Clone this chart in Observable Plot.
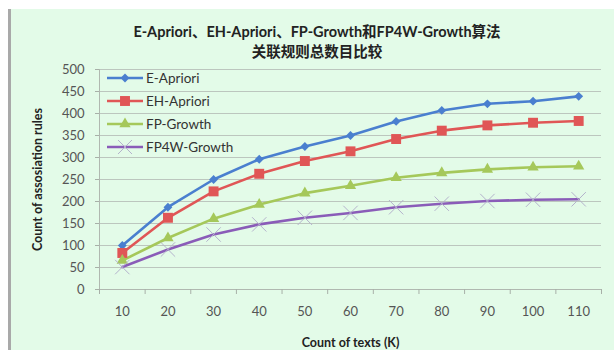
<!DOCTYPE html>
<html>
<head>
<meta charset="utf-8">
<script src="https://cdn.jsdelivr.net/npm/d3@7"></script>
<script src="https://cdn.jsdelivr.net/npm/@observablehq/plot@0.6"></script>
<style>
  body { margin: 0; background: #ffffff; }
  #wrap { position: relative; width: 614px; height: 350px; overflow: hidden; }
  #bg { position: absolute; left: 8px; top: 9px; right: 0; bottom: 0; background: #e3fbe8; border-left: 3px solid #a9a9a9; }
  #title { position: absolute; left: 20px; width: 594px; top: 22px; text-align: center;
    font-family: Lato, "Noto Sans CJK SC", sans-serif; font-weight: bold; font-size: 14.5px; line-height: 20px; color: #222; }
  #chart { position: absolute; left: 0; top: 0; }
  #legend { position: absolute; left: 106px; top: 66px; font-family: Lato, "Noto Sans CJK SC", sans-serif; font-size: 13.5px; color: #333; }
</style>
</head>
<body>
<div id="wrap">
  <div id="bg"></div>
  <div id="chart"></div>
  <div id="title">E-Apriori、EH-Apriori、FP-Growth和FP4W-Growth算法<br>关联规则总数目比较</div>
  <div id="legend"></div>
</div>
<script>
const categories = [10, 20, 30, 40, 50, 60, 70, 80, 90, 100, 110];
const seriesNames = ["E-Apriori", "EH-Apriori", "FP-Growth", "FP4W-Growth"];
const eApriori   = [100, 187, 250, 296, 325, 350, 382, 407, 422, 428, 439];
const ehApriori  = [83, 163, 223, 263, 292, 314, 342, 361, 373, 379, 383];
const fpGrowth   = [66, 117, 161, 193, 219, 236, 254, 265, 273, 278, 280];
const fp4wGrowth = [51, 91, 125, 148, 163, 174, 187, 195, 201, 204, 205];
const yTicks = [0, 50, 100, 150, 200, 250, 300, 350, 400, 450, 500];
const xTitle = "Count of texts (K)";
const yTitle = "Count of assosiation rules";

const styles = [
  {line: "#4a7fcf", fill: "#4a7fcf", stroke: "none", symbol: "diamond2", r: 4, sw: 1},
  {line: "#e05656", fill: "#e05656", stroke: "none", symbol: "square", r: 5.6, sw: 1},
  {line: "#a5c85a", fill: "#a5c85a", stroke: "none", symbol: "triangle", r: 4.2, sw: 1},
  {line: "#8a5cb8", fill: "none", stroke: "#b4b2cc", symbol: "times", r: 6.6, sw: 1}
];
const allValues = [eApriori, ehApriori, fpGrowth, fp4wGrowth];
const data = allValues.flatMap((vals, i) => vals.map((v, j) => ({series: seriesNames[i], k: categories[j], v, idx: i})));

const step = categories[1] - categories[0];
const bounds = [...categories.map(c => c - step / 2), categories[categories.length - 1] + step / 2];

const font = "Lato, 'Noto Sans CJK SC', sans-serif";
const marks = [
  Plot.gridY(yTicks, {stroke: "#bcc6be", strokeOpacity: 1, strokeWidth: 1.2}),
  Plot.axisY({ticks: yTicks, tickSize: 4, tickPadding: 11, stroke: "#a8b0a8", fontSize: 13, fill: "#555", label: null}),
  Plot.ruleX([bounds[0]], {stroke: "#b0b8b0"}),
  Plot.ruleY([0], {stroke: "#b0b8b0"}),
  Plot.axisX({ticks: bounds, tickSize: 5, tickFormat: () => "", stroke: "#a8b0a8", label: null}),
  Plot.axisX({ticks: categories, tickSize: 0, tickPadding: 17, fontSize: 13, fill: "#555", label: null}),
  Plot.text([xTitle], {frameAnchor: "bottom", lineAnchor: "middle", textAnchor: "middle", dy: 53, fontSize: 12.5, fontWeight: "bold", fill: "#222", fontFamily: font}),
  Plot.text([yTitle], {frameAnchor: "left", textAnchor: "middle", lineAnchor: "middle", dx: -62, rotate: -90, fontSize: 12.5, fontWeight: "bold", fill: "#222", fontFamily: font})
];
seriesNames.forEach((name, i) => {
  const d = data.filter(e => e.idx === i);
  marks.push(Plot.line(d, {x: "k", y: "v", stroke: styles[i].line, strokeWidth: 2.6, curve: "linear"}));
});
seriesNames.forEach((name, i) => {
  const d = data.filter(e => e.idx === i);
  const s = styles[i];
  marks.push(Plot.dot(d, {x: "k", y: "v", symbol: () => s.symbol, r: s.r, fill: s.fill, stroke: s.stroke, strokeWidth: s.sw}));
});

const plot = Plot.plot({
  width: 614,
  height: 350,
  marginLeft: 99,
  marginRight: 13,
  marginTop: 69,
  marginBottom: 61,
  style: {background: "transparent", fontFamily: font},
  x: {type: "linear", domain: [bounds[0], bounds[bounds.length - 1]]},
  y: {domain: [0, 500]},
  symbol: {type: "identity"},
  marks
});
document.getElementById("chart").appendChild(plot);

// Legend built from series names and styles
const lg = d3.select("#legend");
seriesNames.forEach((name, i) => {
  const s = styles[i];
  const row = lg.append("div").style("display", "flex").style("align-items", "center").style("height", "23px");
  const svg = row.append("svg").attr("width", 38).attr("height", 14).style("margin-right", "2px");
  svg.append("line").attr("x1", 1).attr("x2", 37).attr("y1", 7).attr("y2", 7).attr("stroke", s.line).attr("stroke-width", 2.6);
  const symMap = {diamond2: d3.symbolDiamond2, square: d3.symbolSquare, triangle: d3.symbolTriangle, times: d3.symbolTimes};
  svg.append("path").attr("transform", "translate(19,7)")
    .attr("d", d3.symbol(symMap[s.symbol], Math.PI * s.r * s.r)())
    .attr("fill", s.fill).attr("stroke", s.stroke).attr("stroke-width", s.sw);
  row.append("span").text(name);
});
</script>
</body>
</html>
